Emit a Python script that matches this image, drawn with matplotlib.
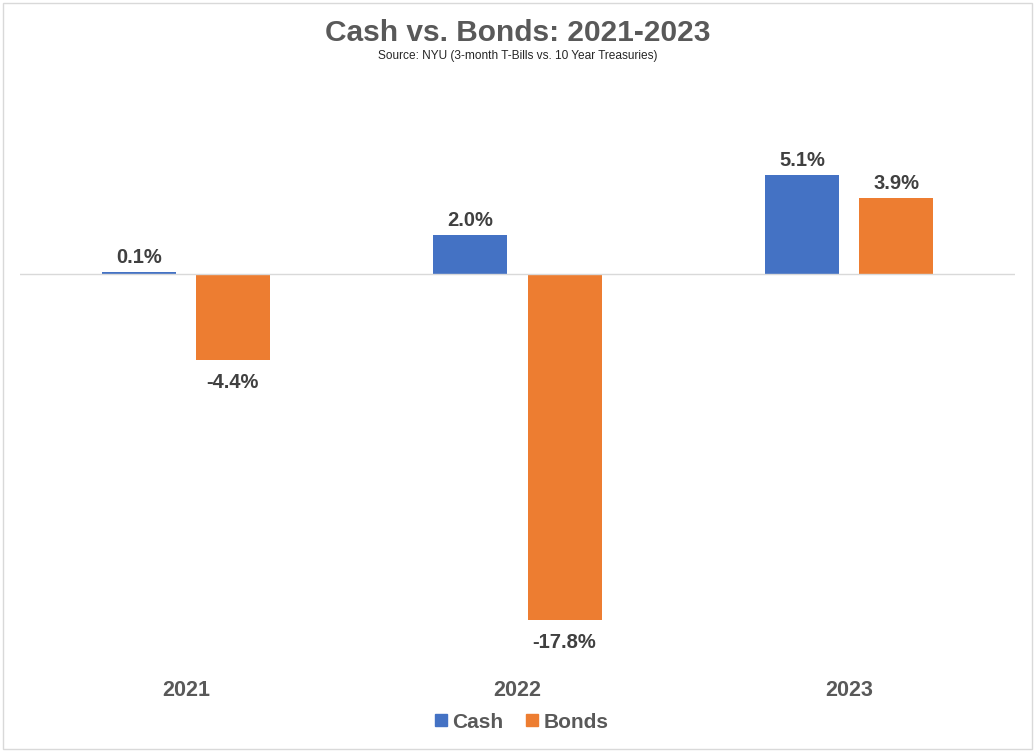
import matplotlib.pyplot as plt
import numpy as np
from matplotlib.patches import Rectangle
from matplotlib.lines import Line2D

plt.rcParams['font.family'] = ['Liberation Sans', 'DejaVu Sans']

# Data
years = ['2021', '2022', '2023']
cash = [0.1, 2.0, 5.1]
bonds = [-4.4, -17.8, 3.9]

cash_color = '#4472C4'
bonds_color = '#ED7D31'
label_color = '#404040'
title_color = '#595959'

fig = plt.figure(figsize=(10.35, 7.52), dpi=100)
ax = fig.add_axes([0.0193, 0.1186, 0.9614, 0.7754])

x = np.arange(len(years))
w = 0.223
off = 0.142
ax.bar(x - off, cash, w, color=cash_color, label='Cash', zorder=2)
ax.bar(x + off, bonds, w, color=bonds_color, label='Bonds', zorder=2)

# Data labels
for xs, vals in [(x - off, cash), (x + off, bonds)]:
    for xi, v in zip(xs, vals):
        if v >= 0:
            ax.annotate(f'{v:.1f}%', (xi, v), xytext=(0, 3.5), textcoords='offset points',
                        ha='center', va='bottom', fontsize=14.5, fontweight='bold', color=label_color)
        else:
            ax.annotate(f'{v:.1f}%', (xi, v), xytext=(0, -9.5), textcoords='offset points',
                        ha='center', va='top', fontsize=14.5, fontweight='bold', color=label_color)

ax.set_xlim(-0.5, 2.5)
ax.set_ylim(-20, 10)
ax.axhline(0, color='#D9D9D9', linewidth=1.0, zorder=3)
ax.set_yticks([])
ax.set_xticks([])
for s in ax.spines.values():
    s.set_visible(False)

# Category labels
for xi, yr in zip(x, years):
    ax.text(xi, -0.03, yr, transform=ax.get_xaxis_transform(), ha='center', va='top',
            fontsize=15.5, fontweight='bold', color=title_color)

# Title
fig.text(0.5, 1 - 33 / 752, 'Cash vs. Bonds: 2021-2023', ha='center', va='center',
         fontsize=21.5, fontweight='bold', color=title_color)
fig.text(0.5, 1 - 56 / 752, 'Source: NYU (3-month T-Bills vs. 10 Year Treasuries)', ha='center',
         va='center', fontsize=8.6, color='#262626')

# Legend
handles = [Line2D([], [], marker='s', linestyle='none', markersize=8.5, color=cash_color),
           Line2D([], [], marker='s', linestyle='none', markersize=8.5, color=bonds_color)]
leg = fig.legend(handles, ['Cash', 'Bonds'], loc='center', bbox_to_anchor=(0.503, 1 - 722 / 752),
                 ncol=2, frameon=False, handletextpad=0.15, columnspacing=1.0, handlelength=0.8,
                 prop={'size': 15, 'weight': 'bold'})
for t in leg.get_texts():
    t.set_color(title_color)

# Border
fig.patches.append(Rectangle((3 / 1035, 3 / 752), 1 - 6 / 1035, 1 - 6 / 752, transform=fig.transFigure,
                             fill=False, edgecolor='#D9D9D9', linewidth=1))

plt.savefig('out.png', dpi=100)
plt.close()
